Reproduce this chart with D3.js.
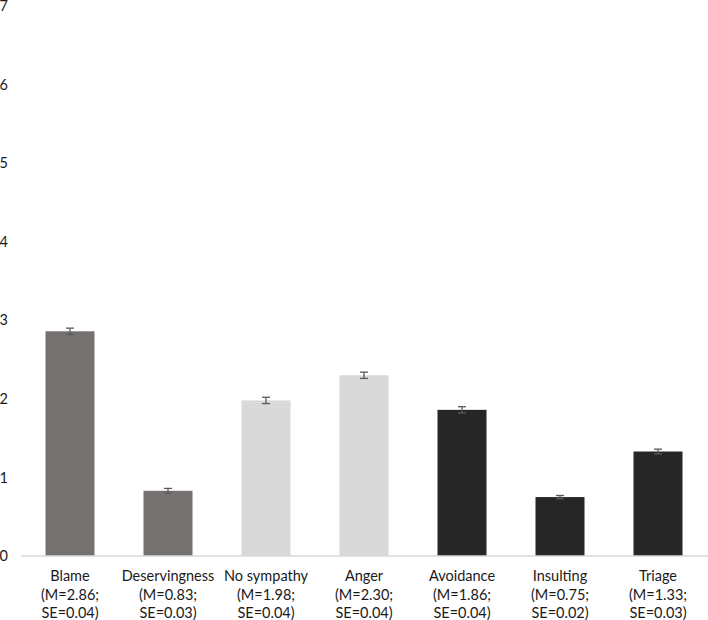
<!DOCTYPE html>
<html><head><meta charset="utf-8">
<script src="https://cdn.jsdelivr.net/npm/d3@7"></script>
<style>body{margin:0;background:#fff;}svg{display:block;}</style>
</head><body>
<svg id="chart" width="708" height="620"></svg>
<script>
const categories = ["Blame","Deservingness","No sympathy","Anger","Avoidance","Insulting","Triage"];
const means = [2.86,0.83,1.98,2.30,1.86,0.75,1.33];
const errors = [0.04,0.03,0.04,0.04,0.04,0.02,0.03];
const meanLabels = ["(M=2.86;","(M=0.83;","(M=1.98;","(M=2.30;","(M=1.86;","(M=0.75;","(M=1.33;"];
const seLabels = ["SE=0.04)","SE=0.03)","SE=0.04)","SE=0.04)","SE=0.04)","SE=0.02)","SE=0.03)"];
const groups = ["g1","g1","g2","g2","g3","g3","g3"];
const yTicks = [0,1,2,3,4,5,6,7];

const svg = d3.select("#chart");
const color = d3.scaleOrdinal().domain(["g1","g2","g3"]).range(["#767171","#d9d9d9","#262626"]);
const x = d3.scaleBand().domain(categories).range([21,707]).paddingInner(0.5).paddingOuter(0.25);
const y = d3.scaleLinear().domain([0,7]).range([556,6]);
const font = "Lato, 'Open Sans', sans-serif";

// y axis labels
const yAxis = d3.axisLeft(y).tickValues(yTicks).tickSize(0).tickPadding(0).tickFormat(d3.format("d"));
const ya = svg.append("g").attr("transform","translate(8,0)").call(yAxis);
ya.select(".domain").remove();
ya.selectAll("text").attr("font-family",font).attr("font-size",14.5).attr("fill","#1a1a1a");

// bars
svg.append("g").selectAll("rect").data(categories).join("rect")
  .attr("x",d=>x(d)).attr("width",x.bandwidth())
  .attr("y",(d,i)=>y(means[i])).attr("height",(d,i)=>y(0)-y(means[i]))
  .attr("fill",(d,i)=>color(groups[i]));

// baseline
svg.append("line").attr("x1",21).attr("x2",708).attr("y1",y(0)).attr("y2",y(0))
  .attr("stroke","#d9d9d9").attr("stroke-width",1.5);

// error bars
const eb = svg.append("g").attr("stroke","#595959").attr("stroke-width",1.3);
categories.forEach((c,i)=>{
  const cx = x(c)+x.bandwidth()/2;
  const t = y(means[i]+errors[i]), b = y(means[i]-errors[i]);
  eb.append("line").attr("x1",cx).attr("x2",cx).attr("y1",t).attr("y2",b);
  eb.append("line").attr("x1",cx-4).attr("x2",cx+4).attr("y1",t).attr("y2",t);
  eb.append("line").attr("x1",cx-4).attr("x2",cx+4).attr("y1",b).attr("y2",b);
});

// x labels
const xl = svg.append("g").attr("font-family",font).attr("font-size",14.5).attr("fill","#1a1a1a").attr("text-anchor","middle");
categories.forEach((c,i)=>{
  const cx = x(c)+x.bandwidth()/2;
  const t = xl.append("text").attr("x",cx).attr("y",581);
  t.append("tspan").attr("x",cx).attr("dy",0).text(c);
  t.append("tspan").attr("x",cx).attr("dy",18.5).text(meanLabels[i]);
  t.append("tspan").attr("x",cx).attr("dy",18.5).text(seLabels[i]);
});
</script>
</body></html>
